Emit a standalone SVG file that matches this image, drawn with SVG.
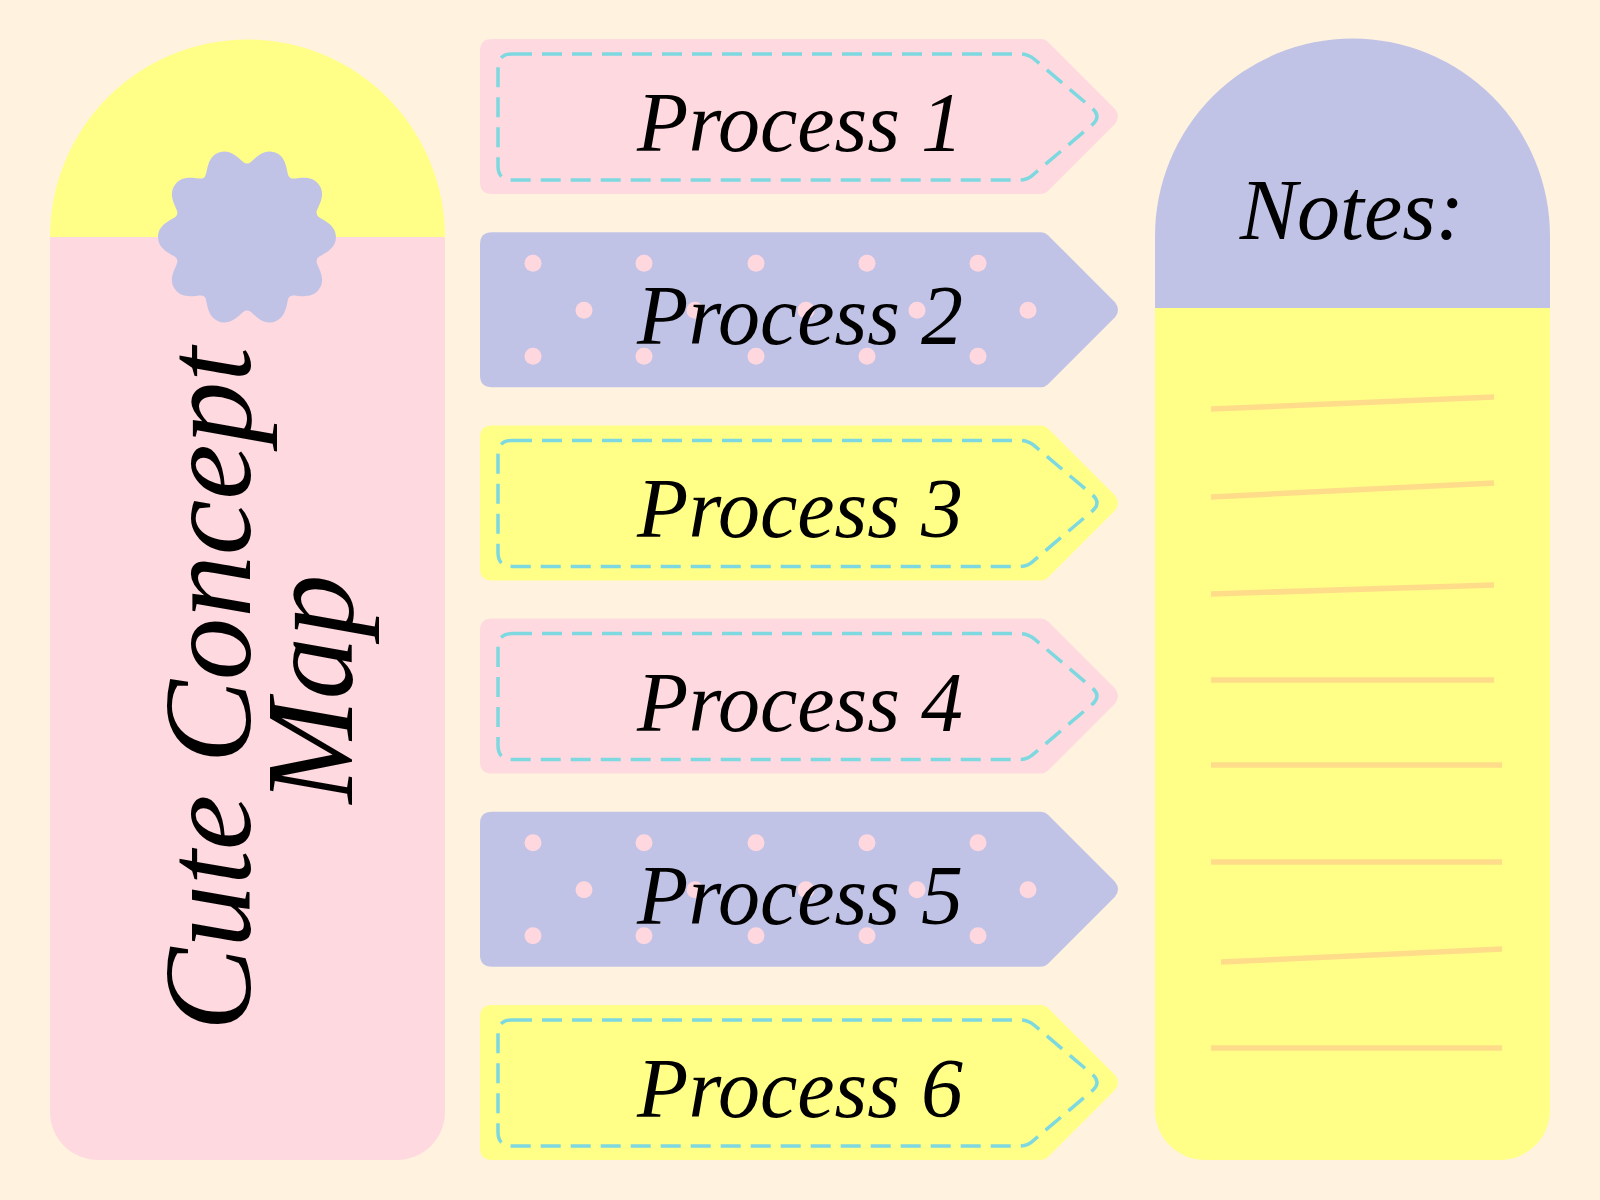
<svg xmlns="http://www.w3.org/2000/svg" xmlns:xlink="http://www.w3.org/1999/xlink" width="1600" height="1200" viewBox="0 0 1600 1200">
  <style>
    .pink { fill: #ffd9e0; }
    .yellow { fill: #ffff88; }
    .purple { fill: #c1c3e6; }
    .dash { fill: none; stroke: #7dd8df; stroke-width: 3.5; stroke-dasharray: 20 10; }
    .dot { fill: #ffd7df; }
    .label { font-family: "Liberation Serif", "DejaVu Serif", serif; font-style: italic; fill: #000; }
    .proc { font-size: 84px; text-anchor: middle; }
    .noteline { stroke: #ffdc8a; stroke-width: 5.5; fill: none; }
  </style>
  <defs>
    <path id="arrow" d="M492,0 H1041 Q1045,0 1048,3 L1115,70 Q1121,77.5 1115,85 L1048,152 Q1045,155 1041,155 H492 Q480,155 480,143 V12 Q480,0 492,0 Z"/>
    <path id="dashline" class="dash" d="M512,15 H1020 Q1028,15 1034,20 L1093,70 Q1101,77.5 1093,85 L1034,135 Q1028,141 1020,141 H512 Q498,141 498,127 V29 Q498,15 512,15 Z"/>
    <g id="dots" class="dot">
      <circle cx="533" cy="31" r="8.5"/><circle cx="644" cy="31" r="8.5"/><circle cx="756" cy="31" r="8.5"/><circle cx="867" cy="31" r="8.5"/><circle cx="978" cy="31" r="8.5"/>
      <circle cx="584" cy="78" r="8.5"/><circle cx="695" cy="78" r="8.5"/><circle cx="806" cy="78" r="8.5"/><circle cx="917" cy="78" r="8.5"/><circle cx="1028" cy="78" r="8.5"/>
      <circle cx="533" cy="124" r="8.5"/><circle cx="644" cy="124" r="8.5"/><circle cx="756" cy="124" r="8.5"/><circle cx="867" cy="124" r="8.5"/><circle cx="978" cy="124" r="8.5"/>
    </g>
    <path id="lobe" d="M0,0 L69.43,-22.56 C70.98,-17.80 89,-15 89,0 C89,15 70.98,17.80 69.43,22.56 Z"/>
  </defs>

  <rect x="0" y="0" width="1600" height="1200" fill="#fff2df"/>

  <g id="title-panel">
    <path class="yellow" d="M50,237 A197.5,197.5 0 0 1 445,237 Z"/>
    <path class="pink" d="M50,237 H445 V1112 A48,48 0 0 1 397,1160 H98 A48,48 0 0 1 50,1112 Z"/>
    <g id="badge" class="purple" transform="translate(247,237)">
      <circle cx="0" cy="0" r="73.5"/>
      <use xlink:href="#lobe" transform="rotate(0)"/>
      <use xlink:href="#lobe" transform="rotate(36)"/>
      <use xlink:href="#lobe" transform="rotate(72)"/>
      <use xlink:href="#lobe" transform="rotate(108)"/>
      <use xlink:href="#lobe" transform="rotate(144)"/>
      <use xlink:href="#lobe" transform="rotate(180)"/>
      <use xlink:href="#lobe" transform="rotate(216)"/>
      <use xlink:href="#lobe" transform="rotate(252)"/>
      <use xlink:href="#lobe" transform="rotate(288)"/>
      <use xlink:href="#lobe" transform="rotate(324)"/>
    </g>
    <text class="label" font-size="125" text-anchor="middle" transform="translate(250,689) rotate(-90)">Cute Concept</text>
    <text class="label" font-size="125" text-anchor="middle" transform="translate(352,689) rotate(-90)">Map</text>
  </g>

  <g id="process-1" transform="translate(0,39)">
    <use xlink:href="#arrow" class="pink"/>
    <use xlink:href="#dashline"/>
    <text class="label proc" x="800" y="112">Process 1</text>
  </g>
  <g id="process-2" transform="translate(0,232.2)">
    <use xlink:href="#arrow" class="purple"/>
    <use xlink:href="#dots"/>
    <text class="label proc" x="800" y="112">Process 2</text>
  </g>
  <g id="process-3" transform="translate(0,425.4)">
    <use xlink:href="#arrow" class="yellow"/>
    <use xlink:href="#dashline"/>
    <text class="label proc" x="800" y="112">Process 3</text>
  </g>
  <g id="process-4" transform="translate(0,618.6)">
    <use xlink:href="#arrow" class="pink"/>
    <use xlink:href="#dashline"/>
    <text class="label proc" x="800" y="112">Process 4</text>
  </g>
  <g id="process-5" transform="translate(0,811.8)">
    <use xlink:href="#arrow" class="purple"/>
    <use xlink:href="#dots"/>
    <text class="label proc" x="800" y="112">Process 5</text>
  </g>
  <g id="process-6" transform="translate(0,1005)">
    <use xlink:href="#arrow" class="yellow"/>
    <use xlink:href="#dashline"/>
    <text class="label proc" x="800" y="112">Process 6</text>
  </g>

  <g id="notes-panel">
    <path class="purple" d="M1155,236 A197.5,197.5 0 0 1 1550,236 V308 H1155 Z"/>
    <path class="yellow" d="M1155,308 H1550 V1110 A50,50 0 0 1 1500,1160 H1205 A50,50 0 0 1 1155,1110 Z"/>
    <text class="label" font-size="86" text-anchor="middle" x="1352" y="239">Notes:</text>
    <line class="noteline" x1="1211" y1="409" x2="1494" y2="397"/>
    <line class="noteline" x1="1211" y1="497" x2="1494" y2="483"/>
    <line class="noteline" x1="1211" y1="594" x2="1494" y2="585"/>
    <line class="noteline" x1="1211" y1="680" x2="1494" y2="680"/>
    <line class="noteline" x1="1211" y1="765" x2="1502" y2="765"/>
    <line class="noteline" x1="1211" y1="862" x2="1502" y2="862"/>
    <line class="noteline" x1="1221" y1="962" x2="1502" y2="949"/>
    <line class="noteline" x1="1211" y1="1048" x2="1502" y2="1048"/>
  </g>

  <g id="connectors"></g>
</svg>
